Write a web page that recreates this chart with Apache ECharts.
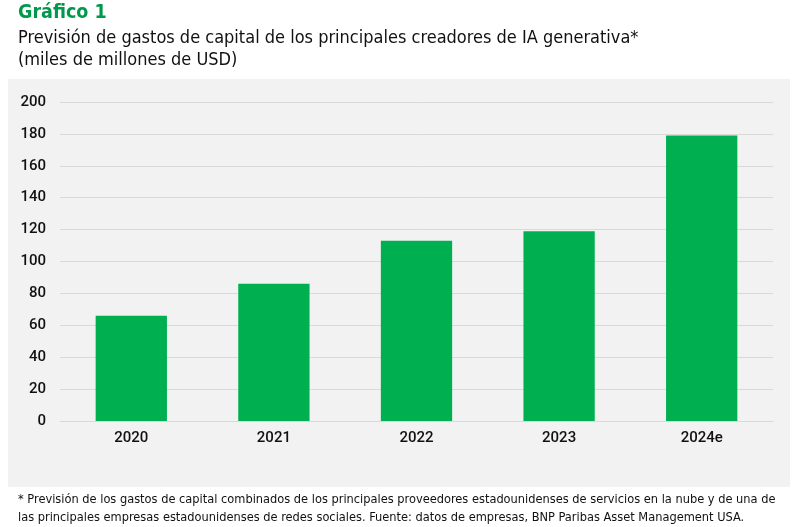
<!DOCTYPE html>
<html>
<head>
<meta charset="utf-8">
<script src="https://cdn.jsdelivr.net/npm/echarts@6/dist/echarts.min.js"></script>
<style>
  html, body { margin: 0; padding: 0; background: #fff; }
  #chart { width: 792px; height: 527px; }
</style>
</head>
<body>
<div id="chart"></div>
<script>
// datos
var years = ['2020', '2021', '2022', '2023', '2024e'];
var capex = [66, 86, 113, 119, 179];
var yTicks = [0, 20, 40, 60, 80, 100, 120, 140, 160, 180, 200];

var chart = echarts.init(document.getElementById('chart'));

var option = {
  animation: false,
  backgroundColor: '#ffffff',
  graphic: [
    {
      type: 'rect',
      z: -10,
      shape: { x: 8, y: 79, width: 782, height: 408 },
      style: { fill: '#f2f2f2' }
    },
    {
      type: 'text',
      left: 18, top: 3,
      style: {
        text: 'Gráfico 1',
        fill: '#00994c',
        font: 'bold 19.5px "DejaVu Sans Condensed", "Noto Sans", sans-serif'
      }
    },
    {
      type: 'text',
      left: 18, top: 27,
      style: {
        text: 'Previsión de gastos de capital de los principales creadores de IA generativa*\n(miles de millones de USD)',
        fill: '#111111',
        lineHeight: 22,
        font: '18px "DejaVu Sans Condensed", "Noto Sans", sans-serif'
      }
    },
    {
      type: 'text',
      left: 18, top: 491,
      style: {
        text: '* Previsión de los gastos de capital combinados de los principales proveedores estadounidenses de servicios en la nube y de una de\nlas principales empresas estadounidenses de redes sociales. Fuente: datos de empresas, BNP Paribas Asset Management USA.',
        fill: '#111111',
        lineHeight: 18,
        font: '12.7px "DejaVu Sans Condensed", "Noto Sans", sans-serif'
      }
    }
  ],
  grid: { left: 60, right: 19, top: 102, bottom: 106 },
  xAxis: {
    type: 'category',
    data: years,
    axisLine: { show: true, lineStyle: { color: '#d9d9d9', width: 1 } },
    axisTick: { show: false },
    axisLabel: {
      color: '#111',
      fontSize: 15,
      fontWeight: 500,
      fontFamily: 'Roboto, sans-serif',
      margin: 10
    }
  },
  yAxis: {
    type: 'value',
    min: yTicks[0],
    max: yTicks[yTicks.length - 1],
    interval: 20,
    axisLine: { show: false },
    axisTick: { show: false },
    splitLine: { lineStyle: { color: '#d9d9d9', width: 1 } },
    axisLabel: {
      color: '#111',
      fontSize: 15,
      fontWeight: 500,
      fontFamily: 'Roboto, sans-serif',
      margin: 14
    }
  },
  series: [{
    type: 'bar',
    data: capex,
    barWidth: '50%',
    itemStyle: { color: '#00b050' }
  }]
};

chart.setOption(option);
</script>
</body>
</html>
